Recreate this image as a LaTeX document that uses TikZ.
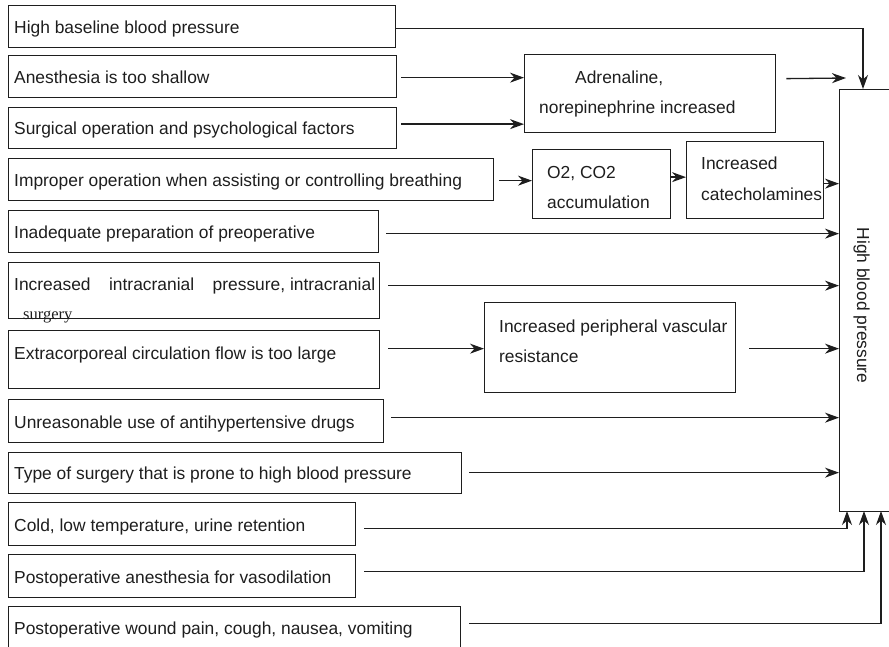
\documentclass[tikz,border=0pt]{standalone}
\usepackage{fontspec}
\setmainfont{Liberation Sans}
\newfontfamily\serifface{Liberation Serif}
\usetikzlibrary{arrows.meta}
\definecolor{ink}{HTML}{1E1E1E}
\begin{document}
\begin{tikzpicture}[x=1pt,y=1pt,
  box/.style={draw=ink, line width=1.3pt, inner sep=0pt, anchor=north west},
  lbl/.style={anchor=base west, inner sep=0pt, text=ink,
              font=\fontsize{17.4}{30}\selectfont},
  conn/.style={draw=ink, line width=1.3pt},
  arr/.style={conn, -{Stealth[length=14pt,width=10pt,inset=4.5pt]}}]
\clip (0,0) rectangle (889,-647);
\fill[white] (0,0) rectangle (889,-647);

% cause boxes on the left
\node[box, minimum width=387pt, minimum height=42pt] (b1)  at (8,-5)   {};
\node[box, minimum width=388pt, minimum height=42pt] (b2)  at (8,-55)  {};
\node[box, minimum width=388pt, minimum height=41pt] (b3)  at (8,-107) {};
\node[box, minimum width=485pt, minimum height=42pt] (b4)  at (8,-158) {};
\node[box, minimum width=370pt, minimum height=42pt] (b5)  at (8,-210) {};
\node[box, minimum width=371pt, minimum height=56pt] (b6)  at (8,-262) {};
\node[box, minimum width=371pt, minimum height=58pt] (b7)  at (8,-330) {};
\node[box, minimum width=375pt, minimum height=43pt] (b8)  at (8,-399) {};
\node[box, minimum width=453pt, minimum height=41pt] (b9)  at (8,-452) {};
\node[box, minimum width=347pt, minimum height=43pt] (b10) at (8,-502) {};
\node[box, minimum width=347pt, minimum height=43pt] (b11) at (8,-554) {};
\node[box, minimum width=452pt, minimum height=60pt] (b12) at (8,-606) {};

\node[lbl] (t1)  at (14,-34)  {High baseline blood pressure};
\node[lbl] (t2)  at (14,-84)  {Anesthesia is too shallow};
\node[lbl] (t3)  at (14,-135) {Surgical operation and psychological factors};
\node[lbl] (t4)  at (14,-187) {Improper operation when assisting or controlling breathing};
\node[lbl] (t5)  at (14,-239) {Inadequate preparation of preoperative};
\node[lbl] (t6)  at (14,-290) {\hbox to 361pt{Increased\hfill intracranial\hfill pressure, intracranial}};
\node[anchor=base west, inner sep=0pt, text=ink, font=\serifface\fontsize{16.5}{20}\selectfont]
     (t6b) at (23,-319) {surgery};
\node[lbl] (t7)  at (14,-359) {Extracorporeal circulation flow is too large};
\node[lbl] (t8)  at (14,-428) {Unreasonable use of antihypertensive drugs};
\node[lbl] (t9)  at (14,-479) {Type of surgery that is prone to high blood pressure};
\node[lbl] (t10) at (14,-531) {Cold, low temperature, urine retention};
\node[lbl] (t11) at (14,-583) {Postoperative anesthesia for vasodilation};
\node[lbl] (t12) at (14,-634) {Postoperative wound pain, cough, nausea, vomiting};

% intermediate effects
\node[box, minimum width=251pt, minimum height=78pt] (adr) at (524,-54)  {};
\node[lbl] (tadr1) at (575,-84)  {Adrenaline,};
\node[lbl] (tadr2) at (539,-114) {norepinephrine increased};

\node[box, minimum width=138pt, minimum height=69pt] (o2) at (532,-149) {};
\node[lbl] (to21) at (547,-179) {O2, CO2};
\node[lbl] (to22) at (547,-209) {accumulation};

\node[box, minimum width=137pt, minimum height=77pt] (cat) at (686,-141) {};
\node[lbl] (tcat1) at (701,-170) {Increased};
\node[lbl] (tcat2) at (701,-201) {catecholamines};

\node[box, minimum width=251pt, minimum height=90pt] (per) at (484,-302) {};
\node[lbl] (tper1) at (499,-332) {Increased peripheral vascular};
\node[lbl] (tper2) at (499,-362) {resistance};

% outcome
\node[box, minimum width=80pt, minimum height=422pt] (hbp) at (839,-89) {};
\node[anchor=base, inner sep=0pt, rotate=-90, text=ink,
      font=\fontsize{17.4}{20}\selectfont] (thbp) at (857,-305.5) {High blood pressure};

\coordinate (top1) at (863,-89);
\coordinate (free) at (846,-78);
\coordinate (bot1) at (847,-511);
\coordinate (bot2) at (864,-511);
\coordinate (bot3) at (881,-511);

% connectors
\draw[arr] ([yshift=-2pt]b1.east) -| (top1);
\draw[arr] ([xshift=4pt,yshift=-1pt]b2.east) coordinate (s2) -- (s2 -| adr.west);
\draw[arr] ([xshift=4pt,yshift=4pt]b3.east) coordinate (s3) -- (s3 -| adr.west);
\draw[arr] ([xshift=10pt,yshift=15pt]adr.east) -- (free);
\draw[arr] ([xshift=5pt,yshift=-1pt]b4.east) coordinate (s4) -- (s4 -| o2.west);
\draw[arr] ([yshift=7pt]o2.east) coordinate (s5) -- (s5 -| cat.west);
\draw[arr] ([yshift=-3.5pt]cat.east) coordinate (s6) -- (s6 -| hbp.west);
\draw[arr] ([xshift=7pt,yshift=-2pt]b5.east) coordinate (s7) -- (s7 -| hbp.west);
\draw[arr] ([xshift=8pt,yshift=5pt]b6.east) coordinate (s8) -- (s8 -| hbp.west);
\draw[arr] ([xshift=8pt,yshift=11pt]b7.east) coordinate (s9) -- (s9 -| per.west);
\draw[arr] ([xshift=13pt,yshift=-1pt]per.east) coordinate (s10) -- (s10 -| hbp.west);
\draw[arr] ([xshift=7pt,yshift=3.5pt]b8.east) coordinate (s11) -- (s11 -| hbp.west);
\draw[arr] ([xshift=7pt,yshift=0.5pt]b9.east) coordinate (s12) -- (s12 -| hbp.west);
\draw[arr] ([xshift=8pt,yshift=-4.5pt]b10.east) -| (bot1);
\draw[arr] ([xshift=8pt,yshift=4.5pt]b11.east) -| (bot2);
\draw[arr] ([xshift=8pt,yshift=13pt]b12.east) -| (bot3);
\end{tikzpicture}
\end{document}
